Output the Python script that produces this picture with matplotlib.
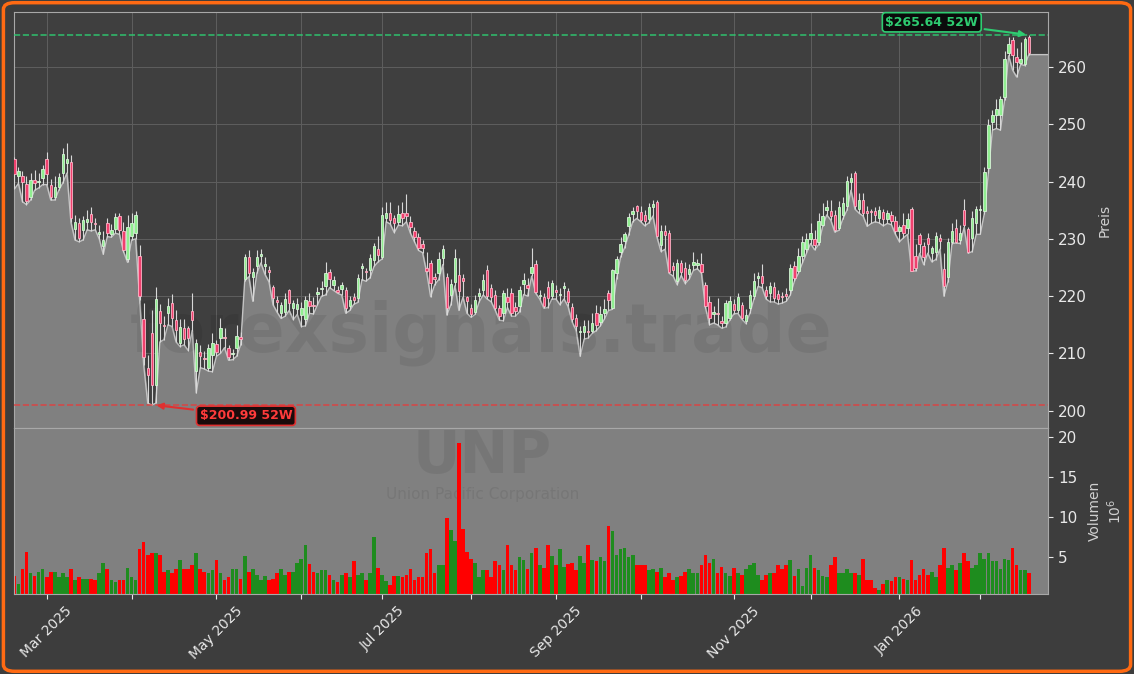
import numpy as np
import pandas as pd
import matplotlib
matplotlib.use("Agg")
import matplotlib.pyplot as plt
from matplotlib.patches import FancyBboxPatch

# UNP daily data (Feb 2025 - Feb 2026), volume in millions
holidays = ["2025-04-18", "2025-05-26", "2025-06-19", "2025-07-04", "2025-09-01",
            "2025-11-27", "2025-12-25", "2026-01-01", "2026-01-19", "2026-02-16"]
dates = pd.bdate_range("2025-02-19", "2026-02-19")
dates = dates[~dates.isin(pd.to_datetime(holidays))]

opens = [
    243.9, 241.0, 241.0, 239.6, 237.4, 240.3, 239.9, 240.6, 243.9, 239.4,
    237.4, 239.1, 241.6, 243.2, 243.5, 231.8, 232.8, 231.6, 232.9, 234.4,
    232.8, 230.9, 228.8, 232.7, 230.9, 231.7, 234.0, 231.3, 226.5, 230.5,
    231.0, 227.0, 216.0, 207.4, 213.6, 204.4, 217.4, 214.9, 217.1, 218.8,
    215.9, 211.8, 214.5, 214.4, 217.4, 207.0, 210.3, 209.2, 207.5, 209.8,
    211.7, 212.7, 212.9, 211.0, 209.9, 210.9, 212.9, 223.0, 226.9, 223.3,
    225.2, 227.0, 225.2, 224.6, 221.6, 219.4, 217.0, 217.3, 221.1, 218.0,
    217.7, 216.7, 216.0, 219.2, 218.5, 220.4, 221.2, 221.7, 224.3, 222.0,
    221.1, 221.2, 221.1, 218.2, 219.9, 219.6, 224.9, 224.3, 224.6, 226.3,
    228.2, 226.9, 233.6, 234.5, 233.6, 233.0, 234.5, 234.5, 232.9, 231.3,
    230.4, 229.2, 224.9, 225.8, 223.4, 224.0, 226.6, 223.4, 220.2, 222.5,
    223.7, 223.1, 219.8, 218.0, 217.3, 220.1, 221.1, 224.6, 221.4, 220.2,
    217.9, 217.0, 219.8, 220.5, 218.1, 218.2, 222.2, 222.0, 224.0, 225.6,
    220.0, 219.9, 221.6, 220.1, 221.0, 220.2, 221.4, 220.9, 218.1, 216.2,
    213.7, 213.7, 213.9, 214.0, 217.0, 215.5, 217.0, 220.5, 218.0, 224.0,
    227.8, 229.7, 232.2, 234.4, 235.8, 234.7, 234.2, 233.4, 235.6, 236.4,
    228.9, 231.3, 231.1, 225.3, 222.7, 225.8, 224.9, 223.9, 225.5, 225.5,
    225.6, 222.0, 219.0, 216.9, 217.0, 215.6, 215.3, 216.2, 218.6, 217.6,
    218.5, 215.6, 217.9, 220.0, 223.1, 223.5, 221.0, 220.5, 221.6, 220.3,
    220.1, 220.4, 221.1, 225.3, 224.4, 227.0, 228.2, 230.0, 230.0, 229.5,
    232.5, 235.1, 234.8, 234.2, 231.9, 234.2, 235.8, 240.0, 241.6, 235.2,
    236.8, 234.9, 234.9, 234.8, 233.7, 234.7, 233.5, 234.1, 233.2, 231.3,
    232.5, 231.9, 235.3, 227.0, 230.7, 228.8, 230.2, 227.6, 227.8, 230.1,
    224.7, 223.4, 229.5, 231.9, 229.8, 235.0, 231.7, 230.1, 232.7, 235.0,
    234.8, 242.4, 250.5, 251.7, 251.6, 254.8, 262.4, 264.7, 261.8, 260.8,
    260.6, 265.3]

highs = [
    244.3, 242.5, 241.8, 241.0, 241.5, 242.0, 241.6, 243.0, 245.2, 240.5,
    241.0, 241.5, 245.8, 246.8, 244.6, 234.2, 233.6, 234.0, 235.0, 235.5,
    233.6, 232.4, 231.4, 233.6, 232.6, 234.5, 234.6, 233.0, 234.2, 234.5,
    234.8, 229.0, 218.8, 209.7, 217.5, 221.6, 218.6, 216.5, 219.7, 220.4,
    217.6, 216.0, 216.0, 214.8, 220.5, 212.5, 211.5, 210.5, 211.6, 213.5,
    212.3, 216.2, 214.5, 211.5, 210.8, 215.0, 213.8, 227.4, 228.0, 225.0,
    228.0, 228.2, 226.8, 225.3, 222.0, 220.0, 219.0, 220.5, 221.3, 219.4,
    219.6, 218.9, 220.0, 220.5, 219.8, 221.6, 222.6, 226.0, 224.8, 223.6,
    221.8, 222.5, 221.6, 220.1, 220.6, 223.8, 225.8, 225.0, 227.4, 229.3,
    230.6, 235.5, 236.5, 236.4, 234.2, 235.9, 236.5, 237.8, 234.0, 232.0,
    231.0, 229.8, 227.8, 226.4, 224.0, 227.7, 228.9, 224.0, 223.0, 228.2,
    226.6, 223.8, 220.0, 218.6, 220.2, 221.5, 223.8, 225.5, 222.2, 221.0,
    218.5, 221.0, 221.5, 221.5, 219.0, 221.8, 224.0, 223.2, 228.4, 226.3,
    221.0, 220.5, 222.6, 222.8, 222.0, 221.5, 222.5, 221.5, 218.8, 216.8,
    214.8, 215.8, 215.8, 217.0, 218.5, 218.3, 219.5, 221.0, 224.8, 227.1,
    230.3, 231.2, 234.5, 235.5, 236.0, 235.7, 235.0, 236.2, 236.8, 236.8,
    232.5, 232.4, 231.5, 226.0, 226.5, 226.3, 225.9, 225.6, 227.8, 226.5,
    227.5, 222.5, 220.0, 218.2, 219.6, 216.5, 219.3, 220.0, 219.5, 220.6,
    219.0, 217.8, 221.0, 224.0, 224.2, 225.7, 221.8, 222.5, 222.5, 221.0,
    220.8, 221.5, 225.7, 226.2, 228.5, 230.5, 231.0, 232.8, 231.5, 234.5,
    236.2, 236.8, 236.8, 235.0, 236.6, 237.3, 241.0, 241.6, 241.9, 238.0,
    238.0, 235.8, 235.3, 235.5, 235.8, 235.2, 235.0, 234.8, 234.0, 232.5,
    234.5, 234.6, 235.6, 229.2, 231.0, 229.5, 231.0, 228.8, 231.2, 230.8,
    227.5, 230.2, 232.8, 233.5, 232.5, 237.0, 232.0, 234.8, 235.8, 236.0,
    242.5, 251.0, 252.5, 254.5, 255.0, 262.8, 265.3, 265.2, 263.3, 264.4,
    265.3, 265.64]

lows = [
    238.7, 239.7, 236.5, 236.0, 236.8, 238.5, 238.9, 239.5, 239.5, 236.8,
    236.8, 238.5, 239.8, 241.5, 232.9, 229.8, 229.5, 229.8, 231.6, 231.4,
    231.6, 230.0, 227.3, 230.4, 230.3, 231.0, 230.8, 227.8, 225.9, 229.8,
    230.0, 219.3, 208.0, 201.3, 200.99, 201.3, 212.0, 212.4, 215.0, 214.7,
    212.0, 211.2, 211.5, 210.5, 214.0, 203.1, 207.5, 207.3, 206.9, 206.8,
    209.5, 210.0, 211.0, 208.8, 208.9, 209.5, 211.5, 222.7, 223.4, 219.1,
    224.0, 225.8, 223.8, 222.5, 218.5, 217.2, 216.1, 216.5, 217.5, 215.9,
    216.8, 214.7, 214.8, 217.0, 216.9, 218.5, 220.0, 220.2, 221.5, 221.0,
    220.5, 220.2, 217.0, 217.5, 218.6, 218.9, 222.9, 222.6, 223.2, 225.2,
    226.0, 226.5, 233.0, 232.6, 231.1, 232.4, 232.3, 233.0, 231.0, 229.5,
    228.0, 227.6, 224.2, 219.9, 222.0, 222.9, 225.5, 216.7, 218.5, 221.8,
    217.5, 219.8, 217.0, 216.3, 216.8, 219.0, 220.2, 219.5, 219.0, 217.5,
    215.8, 215.7, 218.0, 216.5, 216.5, 217.3, 220.3, 220.0, 223.5, 220.5,
    219.5, 217.9, 218.0, 219.5, 219.5, 218.5, 219.5, 218.2, 215.5, 214.0,
    209.5, 212.5, 212.7, 213.5, 214.0, 214.8, 216.0, 217.5, 217.7, 223.0,
    226.8, 228.5, 230.7, 233.0, 233.6, 233.0, 232.3, 232.8, 234.0, 230.3,
    227.8, 228.2, 224.0, 223.5, 222.0, 223.6, 222.2, 223.0, 224.5, 224.8,
    224.0, 218.0, 215.0, 215.3, 215.0, 214.4, 214.6, 215.8, 216.9, 217.0,
    216.0, 215.2, 217.0, 219.5, 221.7, 221.5, 219.5, 219.0, 219.0, 218.6,
    218.8, 219.1, 220.2, 222.6, 224.0, 225.8, 227.5, 229.2, 228.1, 229.0,
    232.2, 234.2, 233.3, 231.2, 231.5, 233.5, 235.0, 238.5, 235.2, 234.5,
    234.0, 232.2, 232.7, 233.0, 232.8, 232.3, 232.7, 232.5, 230.8, 229.5,
    230.2, 230.8, 224.4, 224.4, 227.5, 225.5, 227.5, 226.0, 226.4, 228.2,
    220.0, 222.5, 229.2, 229.3, 229.2, 232.0, 227.5, 227.8, 230.8, 230.8,
    234.4, 241.5, 249.0, 249.3, 249.0, 254.2, 262.0, 259.5, 258.3, 260.5,
    260.3, 262.2]

closes = [
    241.3, 241.9, 239.9, 236.7, 240.3, 239.7, 240.1, 242.3, 241.4, 237.4,
    239.1, 240.9, 244.9, 243.9, 233.6, 233.0, 230.1, 233.3, 233.4, 233.0,
    232.6, 231.2, 229.8, 231.0, 231.6, 233.8, 231.6, 228.1, 232.0, 232.8,
    234.2, 220.0, 209.3, 206.3, 204.4, 219.5, 215.4, 214.8, 218.3, 216.2,
    214.1, 214.7, 212.5, 212.7, 215.9, 211.8, 209.5, 209.1, 210.9, 211.8,
    210.2, 214.4, 212.7, 209.3, 210.0, 213.0, 212.6, 226.8, 224.0, 224.2,
    226.8, 227.4, 225.6, 224.2, 219.7, 219.0, 218.4, 219.5, 218.8, 218.8,
    218.6, 218.0, 219.3, 218.2, 218.3, 220.8, 221.4, 224.0, 223.0, 222.8,
    220.8, 222.0, 217.9, 219.4, 219.4, 223.1, 225.3, 224.2, 226.6, 228.8,
    227.2, 234.2, 234.5, 233.3, 232.7, 234.4, 233.6, 234.0, 232.1, 230.4,
    228.4, 228.4, 224.4, 222.3, 223.0, 226.5, 228.3, 218.0, 222.1, 226.6,
    220.9, 222.6, 219.2, 216.9, 219.4, 220.5, 222.9, 220.0, 219.9, 217.9,
    216.5, 220.5, 219.0, 217.0, 217.4, 221.1, 222.8, 221.5, 225.1, 220.8,
    220.1, 218.2, 219.6, 222.3, 220.7, 220.4, 221.8, 218.9, 216.0, 214.8,
    214.0, 214.8, 213.8, 215.3, 215.0, 216.8, 217.8, 219.4, 224.6, 226.5,
    229.2, 230.8, 233.9, 234.8, 234.9, 233.3, 233.2, 235.5, 236.1, 230.5,
    231.3, 230.7, 224.3, 224.6, 225.8, 224.3, 222.9, 224.7, 226.0, 225.8,
    224.3, 218.2, 216.2, 217.2, 216.8, 215.4, 218.8, 219.1, 217.6, 219.8,
    216.2, 216.7, 220.2, 222.7, 223.5, 222.3, 220.1, 221.8, 219.6, 219.5,
    219.9, 220.0, 224.9, 223.1, 227.1, 229.5, 230.0, 231.0, 229.0, 233.2,
    234.0, 235.6, 234.0, 231.6, 235.6, 236.3, 240.2, 240.6, 235.8, 236.8,
    234.5, 234.6, 234.7, 234.2, 235.1, 233.5, 234.5, 233.2, 231.4, 232.0,
    231.0, 233.5, 224.4, 225.0, 229.1, 226.8, 229.2, 228.4, 230.6, 229.6,
    221.7, 229.5, 231.4, 229.5, 231.0, 232.5, 227.8, 233.6, 235.2, 235.3,
    241.7, 249.9, 251.6, 252.7, 254.4, 261.5, 264.0, 262.1, 260.9, 261.5,
    265.0, 262.5]

volumes = [
    2.6, 1.5, 3.4, 5.6, 2.9, 2.6, 3.1, 3.4, 2.4, 3.1,
    3.1, 2.4, 2.9, 2.5, 3.5, 2.0, 2.5, 2.2, 2.2, 2.2,
    2.1, 3.0, 4.2, 3.4, 2.0, 1.75, 2.0, 2.0, 3.6, 2.5,
    2.1, 5.9, 6.9, 5.25, 5.4, 5.5, 5.25, 3.1, 3.3, 2.9,
    3.4, 4.6, 3.5, 3.5, 4.0, 5.4, 3.5, 3.1, 3.0, 3.3,
    4.6, 3.0, 2.0, 2.4, 3.4, 3.4, 2.2, 5.1, 3.1, 3.4,
    2.75, 2.1, 2.6, 2.1, 2.2, 3.0, 3.4, 2.75, 3.1, 3.1,
    4.2, 4.75, 6.4, 4.1, 3.1, 3.0, 3.3, 3.3, 2.75, 2.0,
    1.75, 2.75, 2.9, 2.5, 4.4, 2.75, 2.9, 2.1, 3.0, 7.5,
    3.6, 2.75, 1.9, 1.4, 2.6, 2.6, 2.5, 2.75, 3.4, 2.1,
    2.5, 2.5, 5.4, 5.9, 2.9, 3.9, 3.9, 9.9, 8.4, 7.0,
    19.25, 8.5, 5.6, 4.75, 4.2, 2.5, 3.3, 3.3, 2.5, 4.5,
    3.9, 3.3, 6.4, 3.9, 3.3, 5.0, 4.6, 3.5, 5.4, 6.1,
    3.9, 3.6, 6.4, 5.1, 4.0, 5.9, 3.75, 4.1, 4.25, 3.3,
    5.1, 4.25, 6.4, 4.6, 4.5, 4.9, 4.5, 8.8, 8.25, 5.25,
    5.9, 6.1, 5.0, 5.25, 3.9, 4.0, 4.0, 3.3, 3.4, 3.1,
    3.6, 2.4, 2.9, 2.1, 2.4, 2.6, 3.1, 3.4, 3.0, 2.9,
    3.9, 5.25, 4.25, 4.75, 2.9, 3.75, 2.9, 2.6, 3.6, 2.9,
    2.75, 3.5, 3.9, 4.25, 2.75, 2.0, 2.75, 3.0, 3.0, 4.0,
    3.5, 4.0, 4.6, 2.6, 3.4, 1.25, 3.6, 5.25, 3.6, 3.3,
    2.6, 2.5, 3.9, 5.0, 3.0, 3.0, 3.4, 2.9, 2.9, 2.75,
    4.75, 2.1, 2.0, 1.1, 0.8, 1.5, 2.0, 1.9, 2.5, 2.5,
    2.2, 2.1, 4.6, 2.1, 2.75, 3.4, 2.75, 3.1, 2.4, 4.0,
    6.1, 3.6, 3.9, 3.3, 4.2, 5.4, 4.4, 3.6, 3.9, 5.5,
    4.75, 5.4, 4.4, 4.4, 3.4, 4.75, 4.6, 6.1, 4.0, 3.3,
    3.3, 2.9]

high_52w = 265.64
low_52w = 200.99

o = np.array(opens)
h = np.array(highs)
l = np.array(lows)
c = np.array(closes)
v = np.array(volumes)
x = np.arange(len(c))
up = c >= o

bg = "#3d3d3d"
fig = plt.figure(figsize=(11.34, 6.74), dpi=100, facecolor=bg)
ax = fig.add_axes([0.0123, 0.365, 0.912, 0.617])
axv = fig.add_axes([0.0123, 0.1187, 0.912, 0.2463], sharex=ax)

x_left, x_right = -0.1, len(c) + 3.8
y_bot, y_top = low_52w * 0.98, high_52w * 1.015

# price panel
ax.set_facecolor("#3f3f3f")
ax.set_axisbelow(True)
ax.grid(True, color="#5e5e5e", lw=0.7)
xf = np.append(x, x_right)
lf = np.append(l, l[-1])
ax.fill_between(xf, lf, y_bot, color="#808080", zorder=1)
ax.plot(xf, lf, color="#c4c4c4", lw=1, zorder=2)

ax.text(0.452, 0.23, "forexsignals.trade", transform=ax.transAxes, fontsize=49,
        fontweight="bold", color="black", alpha=0.07, ha="center", va="center", zorder=2)

ax.vlines(x, l, h, color="#d8d8d8", lw=0.8, zorder=3)
body = np.maximum(np.abs(c - o), 0.12)
ax.bar(x, body, bottom=np.minimum(o, c), width=0.6,
       color=np.where(up, "#90ee90", "#f0406e"),
       edgecolor=np.where(up, "#d8f5d8", "#ffb3c6"), linewidth=0.6, zorder=4)

ax.axhline(high_52w, color="#2ecc71", ls="--", lw=1.2, alpha=0.85, zorder=5)
ax.axhline(low_52w, color="#e04040", ls="--", lw=1.2, alpha=0.85, zorder=5)
ax.annotate(r"\$265.64 52W", xy=(251, high_52w), xytext=(227, 267.85),
            color="#2ecc71", fontsize=9, fontweight="bold", ha="center", va="center",
            bbox=dict(boxstyle="round,pad=0.25", fc="#0b0b0b", ec="#2ecc71", lw=1.2),
            arrowprops=dict(arrowstyle="-|>", color="#2ecc71", lw=1.5), zorder=6)
ax.annotate(r"\$200.99 52W", xy=(34.5, low_52w), xytext=(57.3, 199.1),
            color="#ff3b3b", fontsize=9, fontweight="bold", ha="center", va="center",
            bbox=dict(boxstyle="round,pad=0.25", fc="#1a0b0b", ec="#e03030", lw=1.2),
            arrowprops=dict(arrowstyle="-|>", color="#e03030", lw=1.5), zorder=6)

ax.set_xlim(x_left, x_right)
ax.set_ylim(y_bot, y_top)
ax.yaxis.tick_right()
ax.yaxis.set_label_position("right")
ax.set_yticks([200, 210, 220, 230, 240, 250, 260])
ax.set_ylabel("Preis", color="#d0d0d0", fontsize=10, labelpad=8)
ax.tick_params(axis="y", colors="#e8e8e8", labelsize=11)
ax.tick_params(axis="x", labelbottom=False, length=0)

# volume panel
axv.set_facecolor("#808080")
axv.text(0.453, 0.83, "UNP", transform=axv.transAxes, fontsize=42, fontweight="bold",
         color="black", alpha=0.07, ha="center", va="center", zorder=0)
axv.text(0.453, 0.60, "Union Pacific Corporation", transform=axv.transAxes, fontsize=11,
         color="black", alpha=0.07, ha="center", va="center", zorder=0)
axv.bar(x, v, width=0.9, color=np.where(up, "#1e8c1e", "#ff0000"), zorder=2)
axv.set_ylim(0.3, v.max() * 1.1)
axv.yaxis.tick_right()
axv.yaxis.set_label_position("right")
axv.set_yticks([5, 10, 15, 20])
axv.set_ylabel("Volumen\n$10^6$", color="#d0d0d0", fontsize=10, labelpad=8)
axv.tick_params(axis="y", colors="#e8e8e8", labelsize=11)

# month ticks: first trading day of each month, label every other month
s = pd.Series(x, index=dates)
firsts = s.groupby([dates.year, dates.month]).first().values[1:]
labels = [dates[i].strftime("%b %Y") if dates[i].month % 2 == 1 else "" for i in firsts]
axv.set_xticks(firsts)
axv.set_xticklabels(labels, rotation=45, fontsize=10)
axv.tick_params(axis="x", colors="#e8e8e8")

for a in (ax, axv):
    for sp in a.spines.values():
        sp.set_color("#a8a8a8")

fig.patches.append(FancyBboxPatch((0.003, 0.004), 0.994, 0.992,
                                  boxstyle="round,pad=0,rounding_size=0.01",
                                  transform=fig.transFigure, fc="none",
                                  ec="#ff6a13", lw=2.5))

fig.savefig("out.png", dpi=100, facecolor=bg)
